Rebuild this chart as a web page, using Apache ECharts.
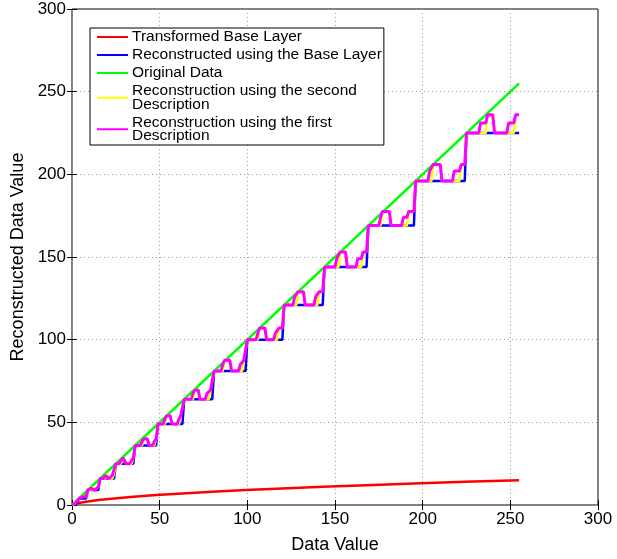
<!DOCTYPE html>
<html>
<head>
<meta charset="utf-8">
<script src="https://cdn.jsdelivr.net/npm/echarts@6/dist/echarts.min.js"></script>
<style>html,body{margin:0;padding:0;background:#fff;}#c{width:617px;height:559px;}</style>
</head>
<body>
<div id="c"></div>
<script>
// Data. Runs are [xStart, xEnd, yValue].
const seriesNames = [
  'Transformed Base Layer',
  'Reconstructed using the Base Layer',
  'Original Data',
  'Reconstruction using the second\nDescription',
  'Reconstruction using the first\nDescription'
];
const axisTicks = [0, 50, 100, 150, 200, 250, 300];

const redRuns = [[0,0,0],[1,3,1],[4,8,2],[9,15,3],[16,24,4],[25,35,5],[36,48,6],[49,63,7],[64,80,8],[81,99,9],[100,120,10],[121,143,11],[144,168,12],[169,195,13],[196,224,14],[225,255,15]];

const blueRuns = [[0,0,0],[1,3,1],[4,8,4],[9,15,9],[16,24,16],[25,35,25],[36,48,36],[49,63,49],[64,80,64],[81,99,81],[100,120,100],[121,143,121],[144,168,144],[169,195,169],[196,224,196],[225,255,225]];

const greenPoints = [[0,0],[255,255]];

const yellowRuns = [
  [0,0,0],[1,2,1],[3,3,2],
  [4,5,4],[6,6,5],[7,7,4],[8,8,5],
  [9,11,9],[12,12,11],[13,14,9],[15,15,11],
  [16,19,16],[20,20,19],[21,23,16],[24,24,19],
  [25,28,25],[29,30,28.5],[31,34,25],[35,35,28.5],
  [36,40,36],[41,43,40],[44,47,36],[48,48,40],
  [49,53,49],[54,56,54],[57,61,49],[62,63,54],
  [64,69,64],[70,72,69.5],[73,78,64],[79,80,69.5],
  [81,86,81],[87,90,87.5],[91,97,81],[98,99,87.5],
  [100,106,100],[107,110,107],[111,117,100],[118,120,107],
  [121,128,121],[129,132,129],[133,140,121],[141,143,129],
  [144,152,144],[153,156,153],[157,165,144],[166,168,153],
  [169,176,169],[177,181,177.5],[182,191,169],[192,195,177.5],
  [196,205,196],[206,210,206],[211,221,196],[222,224,206],
  [225,236,225],[237,240,236],[241,252,225],[253,255,236]
];

const magentaRuns = [
  [0,0,0],[1,2,1],[3,3,2],
  [4,5,4],[6,6,5],[7,7,4],[8,8,5],
  [9,10,9],[11,11,10],[12,12,11],[13,13,9],[14,14,10],[15,15,11],
  [16,18,16],[19,19,18],[20,20,19],[21,22,16],[23,23,18],[24,24,19],
  [25,27,25],[28,28,27],[29,30,28.5],[31,33,25],[34,34,27],[35,35,28.5],
  [36,39,36],[40,40,38.5],[41,43,40],[44,46,36],[47,47,38.5],[48,48,40],
  [49,52,49],[53,53,52],[54,56,54],[57,60,49],[61,61,52],[62,63,54],
  [64,68,64],[69,69,67.5],[70,72,69.5],[73,76,64],[77,78,67.5],[79,80,69.5],
  [81,85,81],[86,86,85],[87,90,87.5],[91,95,81],[96,97,85],[98,99,87.5],
  [100,105,100],[106,106,104],[107,110,107],[111,115,100],[116,117,104],[118,120,107],
  [121,126,121],[127,128,126],[129,132,129],[133,138,121],[139,140,126],[141,143,129],
  [144,150,144],[151,152,149],[153,156,153],[157,162,144],[163,165,149],[166,168,153],
  [169,175,169],[176,176,174],[177,181,177.5],[182,188,169],[189,191,174],[192,195,177.5],
  [196,203,196],[204,205,202],[206,210,206],[211,217,196],[218,221,202],[222,224,206],
  [225,232,225],[233,236,231],[237,240,236],[241,248,225],[249,252,231],[253,255,236]
];

function runsToPoints(runs) {
  const pts = [];
  runs.forEach(function (r) {
    pts.push([r[0], r[2]]);
    if (r[1] !== r[0]) pts.push([r[1], r[2]]);
  });
  return pts;
}

const FONT = "'Liberation Sans', Arial, Helvetica, sans-serif";
const colors = ['#ff0000', '#0000ff', '#00ff00', '#ffff00', '#ff00ff'];
const widths = [2.5, 2.5, 2.5, 2.5, 3];
const dataSets = [runsToPoints(redRuns), runsToPoints(blueRuns), greenPoints, runsToPoints(yellowRuns), runsToPoints(magentaRuns)];

const chart = echarts.init(document.getElementById('c'), null, {renderer: 'canvas'});

function mainAxis(name, pos, extra) {
  return Object.assign({
    type: 'value', min: axisTicks[0], max: axisTicks[axisTicks.length - 1], interval: 50,
    position: pos,
    name: name, nameLocation: 'middle',
    nameTextStyle: {fontFamily: FONT, fontSize: 18, color: '#000'},
    axisLine: {show: false},
    axisTick: {show: true, inside: true, length: 5, lineStyle: {color: '#000', width: 1}},
    axisLabel: {fontFamily: FONT, fontSize: 17, color: '#000'},
    splitLine: {show: true, lineStyle: {color: '#999', type: [1, 3], width: 1}}
  }, extra);
}
function mirrorAxis(pos) {
  return {
    type: 'value', min: axisTicks[0], max: axisTicks[axisTicks.length - 1], interval: 50,
    position: pos,
    axisLine: {show: false},
    axisTick: {show: true, inside: true, length: 5, lineStyle: {color: '#000', width: 1}},
    axisLabel: {show: false},
    splitLine: {show: false}
  };
}

chart.setOption({
  animation: false,
  backgroundColor: '#fff',
  grid: {left: 72, right: 19, top: 9, bottom: 52, show: true, borderColor: '#000', borderWidth: 1, backgroundColor: 'transparent'},
  xAxis: [
    mainAxis('Data Value', 'bottom', {nameGap: 31, axisLabel: {fontFamily: FONT, fontSize: 17, color: '#000', margin: 6}}),
    mirrorAxis('top')
  ],
  yAxis: [
    mainAxis('Reconstructed Data Value', 'left', {nameGap: 44, axisLabel: {fontFamily: FONT, fontSize: 17, color: '#000', margin: 6}}),
    mirrorAxis('right')
  ],
  legend: {
    orient: 'vertical', left: 90, top: 28,
    padding: [1, 2, 1, 6],
    itemGap: 2, itemWidth: 31, itemHeight: 13,
    backgroundColor: '#fff', borderColor: '#000', borderWidth: 1, borderRadius: 0,
    itemStyle: {opacity: 0, borderWidth: 0},
    textStyle: {fontFamily: FONT, fontSize: 15.5, lineHeight: 13.5, color: '#000', padding: [0, 0, 0, -1]},
    data: seriesNames
  },
  series: seriesNames.map(function (n, i) {
    return {
      name: n, type: 'line', data: dataSets[i],
      symbol: 'none', showSymbol: false,
      lineStyle: {color: colors[i], width: widths[i]},
      itemStyle: {color: colors[i]},
      z: 2 + i
    };
  })
});
</script>
</body>
</html>
